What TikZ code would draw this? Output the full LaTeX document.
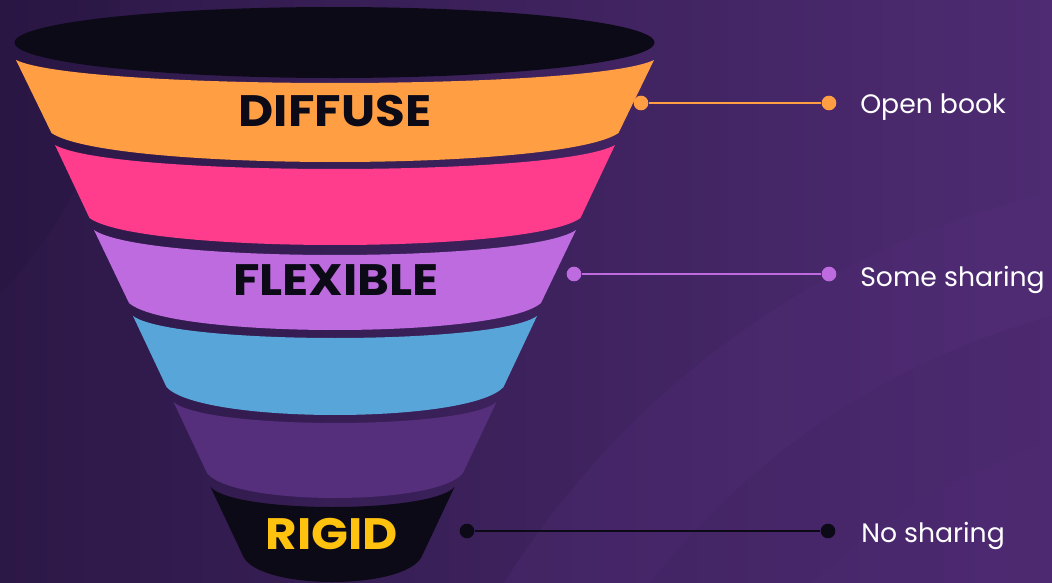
\documentclass[tikz,border=0pt]{standalone}
\usepackage{fontspec}
\newfontfamily\pop{Poppins}
\definecolor{bgA}{HTML}{2C1847}
\definecolor{bgB}{HTML}{4E2B72}
\definecolor{cOrange}{HTML}{FF9E42}
\definecolor{cPink}{HTML}{FF3D8C}
\definecolor{cLav}{HTML}{BF6BE0}
\definecolor{cBlue}{HTML}{58A5DA}
\definecolor{cPurp}{HTML}{552E7C}
\definecolor{cInk}{HTML}{0D0A18}
\definecolor{cGold}{HTML}{FFC20E}
\tikzset{
  dotnode/.style={circle, inner sep=0pt, minimum size=11pt},
  link/.style={line width=1.5pt},
  bigword/.style={font=\pop\bfseries\fontsize{33}{36}\selectfont, inner sep=0pt, xscale=1.1},
  sidelabel/.style={font=\pop\fontsize{20}{24}\selectfont, text=white, anchor=base west, inner sep=0pt}
}
\begin{document}
\begin{tikzpicture}[x=0.75pt,y=-0.75pt]
\useasboundingbox (0,0) rectangle (1052,582);
% background
\shade[left color=bgA, right color=bgB] (0,0) rectangle (1052,582);
\begin{scope}
\clip (0,0) rectangle (1052,582);
\fill[cPurp, opacity=0.25] (1250,1050) circle [radius=880];
\fill[black, opacity=0.03] (1250,1050) circle [radius=760];
\fill[cPurp, opacity=0.15] (1250,1050) circle [radius=640];
\fill[black, opacity=0.05] (-300,0) circle [radius=420];
\end{scope}
% top rim
\fill[cInk] (334.5,42.5) ellipse [x radius=320, y radius=35.5];
% bands: cx / top y / top half width / top sag / bottom y / bottom half width / bottom sag / colour
\foreach \cx/\yt/\ht/\st/\yb/\hb/\sb/\col in {
  335/60/319/23/133/283.5/29/cOrange,
  335/145/280/24/218/245.5/27/cPink,
  335/230/241/25/303/206/27/cLav,
  335/316/202/22/387/168.5/28/cBlue,
  335/402/161.5/21/473/128/25/cPurp,
  332.5/487/122/20/557/89/25/cInk}{
  \fill[\col] ({\cx-\ht},\yt)
     .. controls ({\cx-0.8*\ht},{\yt+1.333*\st}) and ({\cx+0.8*\ht},{\yt+1.333*\st}) .. ({\cx+\ht},\yt)
     -- ({\cx+\hb},\yb)
     .. controls ({\cx+0.8*\hb},{\yb+1.333*\sb}) and ({\cx-0.8*\hb},{\yb+1.333*\sb}) .. ({\cx-\hb},\yb)
     -- cycle;
}
% band titles
\node[bigword, text=cInk] (diffuse) at (335,111) {DIFFUSE};
\node[bigword, text=cInk] (flexible) at (336,280) {FLEXIBLE};
\node[bigword, text=cGold] (rigid) at (332,534) {RIGID};
% connectors
\node[dotnode, fill=cOrange] (oA) at (641,103) {};
\node[dotnode, fill=cOrange] (oB) at (829,103) {};
\draw[link, cOrange] (oA) -- (oB);
\node[dotnode, fill=cLav] (sA) at (574,274) {};
\node[dotnode, fill=cLav] (sB) at (829,274) {};
\draw[link, cLav] (sA) -- (sB);
\node[dotnode, fill=cInk] (nA) at (467,531) {};
\node[dotnode, fill=cInk] (nB) at (828,531) {};
\draw[link, cInk] (nA) -- (nB);
% labels
\node[sidelabel] (lOpen) at (860,113) {Open book};
\node[sidelabel] (lSome) at (860,286) {Some sharing};
\node[sidelabel] (lNo) at (861,542) {No sharing};
\end{tikzpicture}
\end{document}
